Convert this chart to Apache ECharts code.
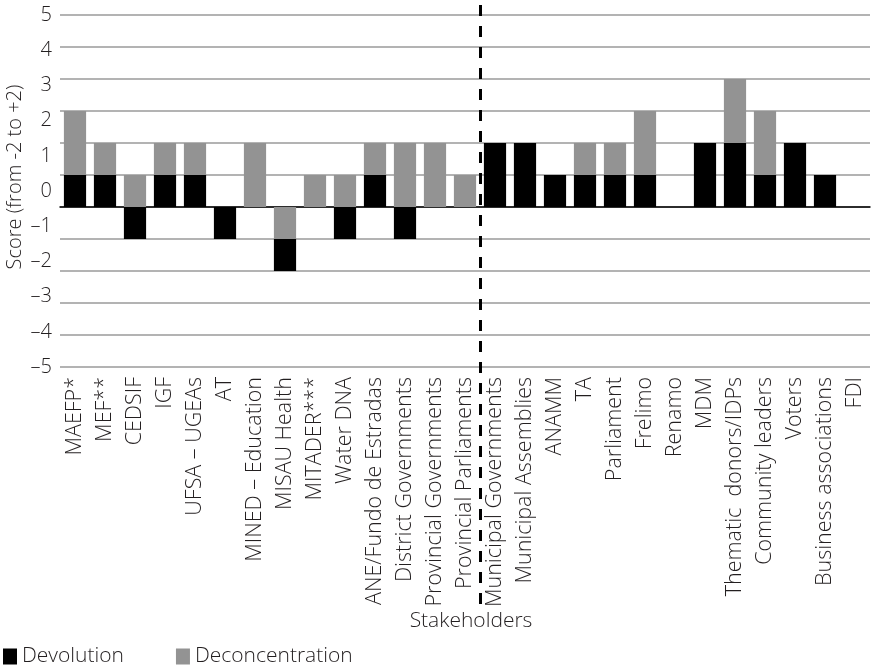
<!DOCTYPE html>
<html>
<head>
<meta charset="utf-8">
<script src="https://cdn.jsdelivr.net/npm/echarts@6/dist/echarts.min.js"></script>
<style>
  html, body { margin: 0; padding: 0; background: #fff; }
  #chart { width: 872px; height: 666px; }
</style>
</head>
<body>
<div id="chart"></div>
<script>
// Stakeholder scores for each reform type
const stakeholders = [
  'MAEFP*', 'MEF**', 'CEDSIF', 'IGF', 'UFSA – UGEAs', 'AT', 'MINED – Education',
  'MISAU Health', 'MITADER***', 'Water DNA', 'ANE/Fundo de Estradas',
  'District Governments', 'Provincial Governments', 'Provincial Parliaments',
  'Municipal Governments', 'Municipal Assemblies', 'ANAMM', 'TA', 'Parliament',
  'Frelimo', 'Renamo', 'MDM', 'Thematic  donors/IDPs', 'Community leaders',
  'Voters', 'Business associations', 'FDI'
];
const devolution = [
  1, 1, -1, 1, 1, -1, 0, -1, 0, -1, 1, -1, 0, 0,
  2, 2, 1, 1, 1, 1, 0, 2, 2, 1, 2, 1, 0
];
const deconcentration = [
  2, 1, 1, 1, 1, 0, 2, -1, 1, 1, 1, 2, 2, 1,
  0, 0, 0, 1, 1, 2, 0, 0, 2, 2, 0, 0, 0
];
const tickLabels = ['–5', '–4', '–3', '–2', '–1', '0', '1', '2', '3', '4', '5'];
// index of the first local-government stakeholder (separator goes before it)
const splitIndex = 14;

const FONT = '"Open Sans", "DejaVu Sans", sans-serif';
const TEXT = '#231f20';
const BLACK = '#000000';
const GREY = '#939393';

// devolution drawn in two parts so positive scores sit on the axis and
// negative scores hang below any negative deconcentration
const devPos = devolution.map(v => (v > 0 ? v : 0));
const devNeg = devolution.map(v => (v < 0 ? v : 0));

const chart = echarts.init(document.getElementById('chart'), null, { renderer: 'canvas' });

const barCommon = { type: 'bar', stack: 'score', barCategoryGap: '26%', animation: false };

chart.setOption({
  backgroundColor: '#fff',
  textStyle: { fontFamily: FONT },
  grid: { left: 60, right: 2, top: 15, bottom: 299, containLabel: false },
  legend: {
    data: [
      { name: 'Devolution', itemStyle: { color: BLACK } },
      { name: 'Deconcentration', itemStyle: { color: GREY } }
    ],
    left: 3, top: 644, padding: [2, 0, 2, 0],
    icon: 'rect', itemWidth: 14, itemHeight: 16, itemGap: 52,
    textStyle: { fontFamily: FONT, fontSize: 21, color: TEXT, fontWeight: 300 },
    selectedMode: false
  },
  xAxis: {
    type: 'category',
    data: stakeholders,
    axisLine: { onZero: true, lineStyle: { color: BLACK, width: 1.5 } },
    axisTick: { show: false },
    axisLabel: {
      interval: 0, rotate: 90, margin: 10,
      fontFamily: FONT, fontSize: 21.5, color: TEXT, fontWeight: 300
    }
  },
  yAxis: [
    {
      type: 'value', min: -5, max: 6, interval: 1,
      axisLine: { show: false }, axisTick: { show: false },
      axisLabel: { show: false },
      splitLine: { lineStyle: { color: '#b3b3b3', width: 2 } }
    },
    {
      type: 'value', min: -5, max: 5, interval: 1, position: 'left',
      axisLine: { show: false }, axisTick: { show: false },
      splitLine: { show: false },
      axisLabel: {
        margin: 8, fontFamily: FONT, fontSize: 20, color: TEXT, fontWeight: 300,
        formatter: v => tickLabels[v + 5]
      }
    }
  ],
  series: [
    Object.assign({ name: 'Devolution', data: devPos, itemStyle: { color: BLACK } }, barCommon),
    Object.assign({ name: 'Deconcentration', data: deconcentration, itemStyle: { color: GREY } }, barCommon),
    Object.assign({ name: 'Devolution', data: devNeg, itemStyle: { color: BLACK } }, barCommon)
  ]
});

// dashed separator between central and local stakeholders, plus the axis titles
const xa = chart.convertToPixel({ xAxisIndex: 0 }, splitIndex - 1);
const xb = chart.convertToPixel({ xAxisIndex: 0 }, splitIndex);
const sepX = Math.round((xa + xb) / 2) + 0.5;
chart.setOption({
  graphic: [
    {
      type: 'line', z: 100,
      shape: { x1: sepX, y1: 5, x2: sepX, y2: 604 },
      style: { stroke: BLACK, lineWidth: 3, lineDash: [11, 10] }
    },
    {
      type: 'text', z: 100,
      x: 15, y: 177, rotation: Math.PI / 2,
      style: {
        text: 'Score (from -2 to +2)', fill: TEXT,
        font: '300 20px ' + FONT, align: 'center', verticalAlign: 'middle'
      }
    },
    {
      type: 'text', z: 100,
      x: 471, y: 621,
      style: {
        text: 'Stakeholders', fill: TEXT,
        font: '300 21px ' + FONT, align: 'center', verticalAlign: 'middle'
      }
    }
  ]
});
</script>
</body>
</html>
